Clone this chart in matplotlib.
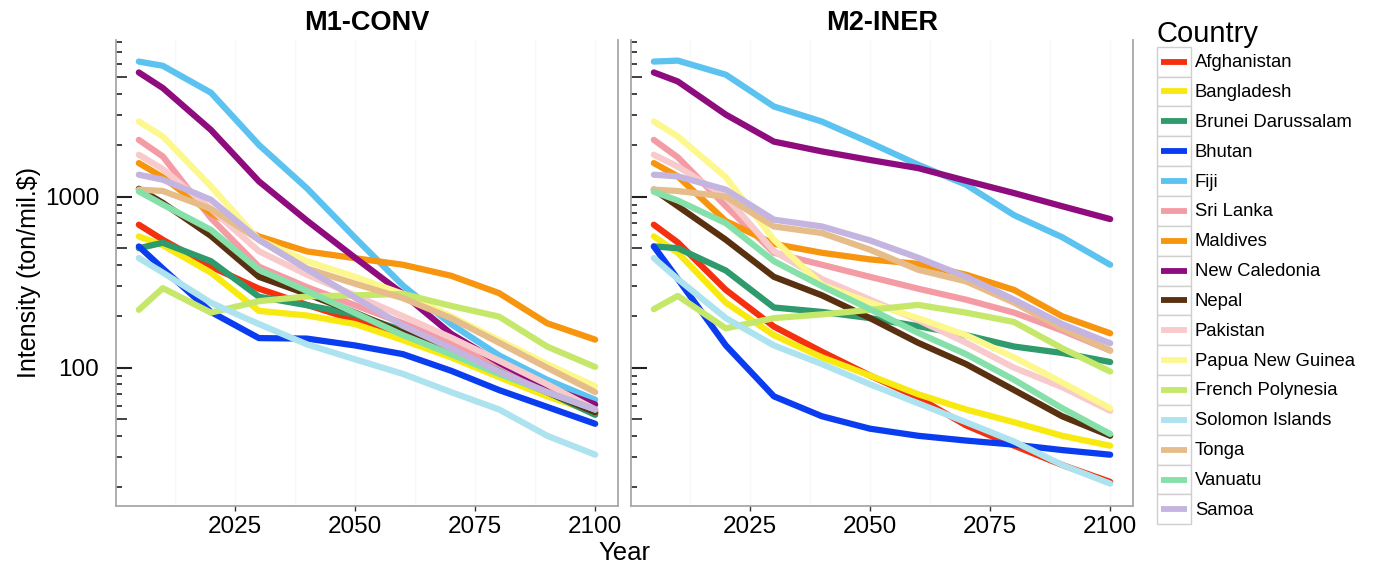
import matplotlib
matplotlib.use("Agg")
import matplotlib.pyplot as plt
from matplotlib.patches import Rectangle
import numpy as np

plt.rcParams['font.family'] = ['Liberation Sans', 'DejaVu Sans']

years = [2005, 2010, 2020, 2030, 2040, 2050, 2060, 2070, 2080, 2090, 2100]

countries = ["Afghanistan", "Bangladesh", "Brunei Darussalam", "Bhutan", "Fiji",
             "Sri Lanka", "Maldives", "New Caledonia", "Nepal", "Pakistan",
             "Papua New Guinea", "French Polynesia", "Solomon Islands", "Tonga",
             "Vanuatu", "Samoa"]

colors = ["#F5300F", "#F8EA10", "#2F9A6B", "#0A3CF0", "#5CC3F0",
          "#F49CA6", "#F7950F", "#8E0C7E", "#5A3110", "#F9CACB",
          "#FDF88E", "#C6E86A", "#ADE2EF", "#E6BD8A", "#86E0A9", "#C4B4E0"]

# M1-CONV
m1_afghanistan = [686, 560, 390, 290, 233, 190, 150, 118, 90, 70, 54]
m1_bangladesh = [586, 520, 360, 215, 202, 180, 145, 115, 88, 68, 55]
m1_brunei = [500, 538, 420, 260, 232, 205, 165, 128, 96, 72, 53]
m1_bhutan = [512, 380, 212, 149, 148, 135, 120, 96, 74, 59, 47]
m1_fiji = [6170, 5830, 4060, 2010, 1120, 576, 302, 180, 118, 85, 65]
m1_srilanka = [2150, 1720, 750, 390, 296, 232, 182, 140, 105, 76, 56]
m1_maldives = [1573, 1300, 800, 586, 479, 437, 400, 345, 273, 182, 146]
m1_newcaledonia = [5330, 4320, 2460, 1230, 725, 440, 270, 158, 107, 77, 61]
m1_nepal = [1113, 920, 590, 340, 270, 210, 160, 124, 94, 72, 55]
m1_pakistan = [1760, 1450, 850, 480, 350, 265, 200, 150, 110, 80, 57]
m1_png = [2755, 2250, 1150, 560, 420, 340, 270, 200, 145, 105, 78]
m1_frenchpolynesia = [218, 292, 210, 245, 261, 265, 270, 230, 199, 133, 101]
m1_solomon = [438, 360, 240, 180, 137, 112, 92, 72, 57, 40, 31]
m1_tonga = [1100, 1080, 850, 560, 380, 310, 255, 195, 140, 100, 72]
m1_vanuatu = [1074, 900, 640, 374, 281, 209, 155, 120, 92, 72, 57]
m1_samoa = [1345, 1257, 960, 560, 377, 257, 176, 130, 95, 72, 57]

# M2-INER
m2_afghanistan = [686, 540, 285, 174, 124, 90, 67, 46, 35, 27, 21.5]
m2_bangladesh = [586, 470, 240, 155, 115, 90, 70, 57, 48, 40, 35]
m2_brunei = [512, 500, 370, 225, 212, 195, 175, 155, 133, 122, 108]
m2_bhutan = [512, 330, 135, 68, 52, 44, 40, 37.5, 35.5, 33, 31]
m2_fiji = [6170, 6250, 5170, 3370, 2750, 2070, 1540, 1175, 780, 580, 400]
m2_srilanka = [2150, 1700, 880, 470, 400, 340, 290, 250, 210, 165, 126]
m2_maldives = [1573, 1315, 720, 530, 470, 430, 405, 350, 285, 200, 159]
m2_newcaledonia = [5330, 4720, 3020, 2100, 1840, 1640, 1470, 1240, 1050, 880, 740]
m2_nepal = [1100, 880, 560, 340, 265, 195, 140, 105, 74, 52, 40]
m2_pakistan = [1760, 1500, 1000, 480, 330, 250, 190, 140, 100, 77, 56]
m2_png = [2755, 2250, 1300, 560, 305, 240, 195, 155, 115, 82, 58]
m2_frenchpolynesia = [220, 263, 170, 195, 205, 218, 233, 210, 185, 130, 95]
m2_solomon = [438, 330, 195, 135, 105, 80, 62, 48, 37, 27, 21]
m2_tonga = [1100, 1080, 1000, 670, 613, 490, 374, 320, 240, 170, 126]
m2_vanuatu = [1070, 950, 700, 420, 300, 220, 160, 120, 85, 58, 41]
m2_samoa = [1345, 1315, 1100, 734, 670, 555, 440, 340, 250, 180, 139]

m1_series = [m1_afghanistan, m1_bangladesh, m1_brunei, m1_bhutan, m1_fiji,
             m1_srilanka, m1_maldives, m1_newcaledonia, m1_nepal, m1_pakistan,
             m1_png, m1_frenchpolynesia, m1_solomon, m1_tonga, m1_vanuatu, m1_samoa]
m2_series = [m2_afghanistan, m2_bangladesh, m2_brunei, m2_bhutan, m2_fiji,
             m2_srilanka, m2_maldives, m2_newcaledonia, m2_nepal, m2_pakistan,
             m2_png, m2_frenchpolynesia, m2_solomon, m2_tonga, m2_vanuatu, m2_samoa]

panel_titles = ["M1-CONV", "M2-INER"]
x_ticks = [2025, 2050, 2075, 2100]
y_labeled = [100, 1000]

W, H = 1374, 565
fig = plt.figure(figsize=(W / 100, H / 100), dpi=100)

def fx(px):
    return px / W

def fy(py):
    return 1 - py / H

ax_left_px = [116, 631]
ax_w_px = 502
ax_top_px, ax_bot_px = 40, 505.7

axes = []
for i, (series, title) in enumerate(zip([m1_series, m2_series], panel_titles)):
    ax = fig.add_axes([fx(ax_left_px[i]), fy(ax_bot_px), ax_w_px / W,
                       (ax_bot_px - ax_top_px) / H])
    axes.append(ax)
    ax.set_yscale('log')
    ax.set_xlim(2000.25, 2104.75)
    ax.set_ylim(15.6, 8250)
    # very faint grid
    for gx in [2012.5, 2025, 2037.5, 2050, 2062.5, 2075, 2087.5, 2100]:
        ax.axvline(gx, color='#f8f8f8', lw=1.0, zorder=0)
    for vals, c in zip(series, colors):
        ax.plot(years, vals, color=c, lw=4.5, solid_capstyle='round',
                solid_joinstyle='round', zorder=2)
    ax.spines['top'].set_visible(False)
    for side in ['left', 'right', 'bottom']:
        ax.spines[side].set_color('#a8a8a8')
        ax.spines[side].set_linewidth(1.3)
    ax.set_xticks(x_ticks)
    ax.set_xticklabels([str(t) for t in x_ticks])
    ax.tick_params(axis='x', direction='out', length=3.5, width=1.0,
                   color='#333333', labelsize=17.5, pad=4)
    majors = [50, 100, 500, 1000, 5000]
    ax.yaxis.set_major_locator(matplotlib.ticker.FixedLocator(majors))
    labels = [str(m) if (m in y_labeled and i == 0) else '' for m in majors]
    ax.yaxis.set_major_formatter(matplotlib.ticker.FixedFormatter(labels))
    minors = [m * d for d in [10, 100, 1000] for m in [2, 3, 4, 6, 7, 8, 9]]
    ax.yaxis.set_minor_locator(matplotlib.ticker.FixedLocator(minors))
    ax.yaxis.set_minor_formatter(matplotlib.ticker.NullFormatter())
    ax.tick_params(axis='y', which='major', direction='in', length=8,
                   width=1.2, color='#222222', labelsize=17.5, pad=12)
    ax.tick_params(axis='y', which='minor', direction='in', length=4.3,
                   width=1.2, color='#222222')
    for t, m in zip(ax.yaxis.get_major_ticks(), majors):
        if m in y_labeled:
            t.tick1line.set_markersize(11.5)
            t.tick1line.set_color('#888888')
            t.tick1line.set_markeredgewidth(1.5)
    ax.set_facecolor('white')
    fig.text(fx(ax_left_px[i] + ax_w_px / 2), fy(30), title, ha='center',
             va='baseline', fontsize=19.5, fontweight='bold')

fig.text(fx(624), fy(560), "Year", ha='center', va='baseline', fontsize=18.5)
fig.text(fx(29), fy(272), "Intensity (ton/mil.$)", ha='center', va='center',
         rotation=90, fontsize=18)

# legend
lax = fig.add_axes([0, 0, 1, 1])
lax.set_xlim(0, W)
lax.set_ylim(H, 0)
lax.axis('off')
lax.text(1156, 42, "Country", ha='left', va='baseline', fontsize=21)
row_top = 46.7
row_h = 29.85
for k, (name, c) in enumerate(zip(countries, colors)):
    y0 = row_top + k * row_h
    lax.add_patch(Rectangle((1157, y0), 34, row_h, facecolor='white',
                            edgecolor='#cfcfcf', lw=1.0))
    lax.plot([1161, 1187], [y0 + row_h / 2, y0 + row_h / 2], color=c, lw=4.2,
             solid_capstyle='butt')
    lax.text(1195, y0 + row_h / 2 + 1, name, ha='left', va='center', fontsize=13.3)

fig.savefig("out.png", dpi=100)
